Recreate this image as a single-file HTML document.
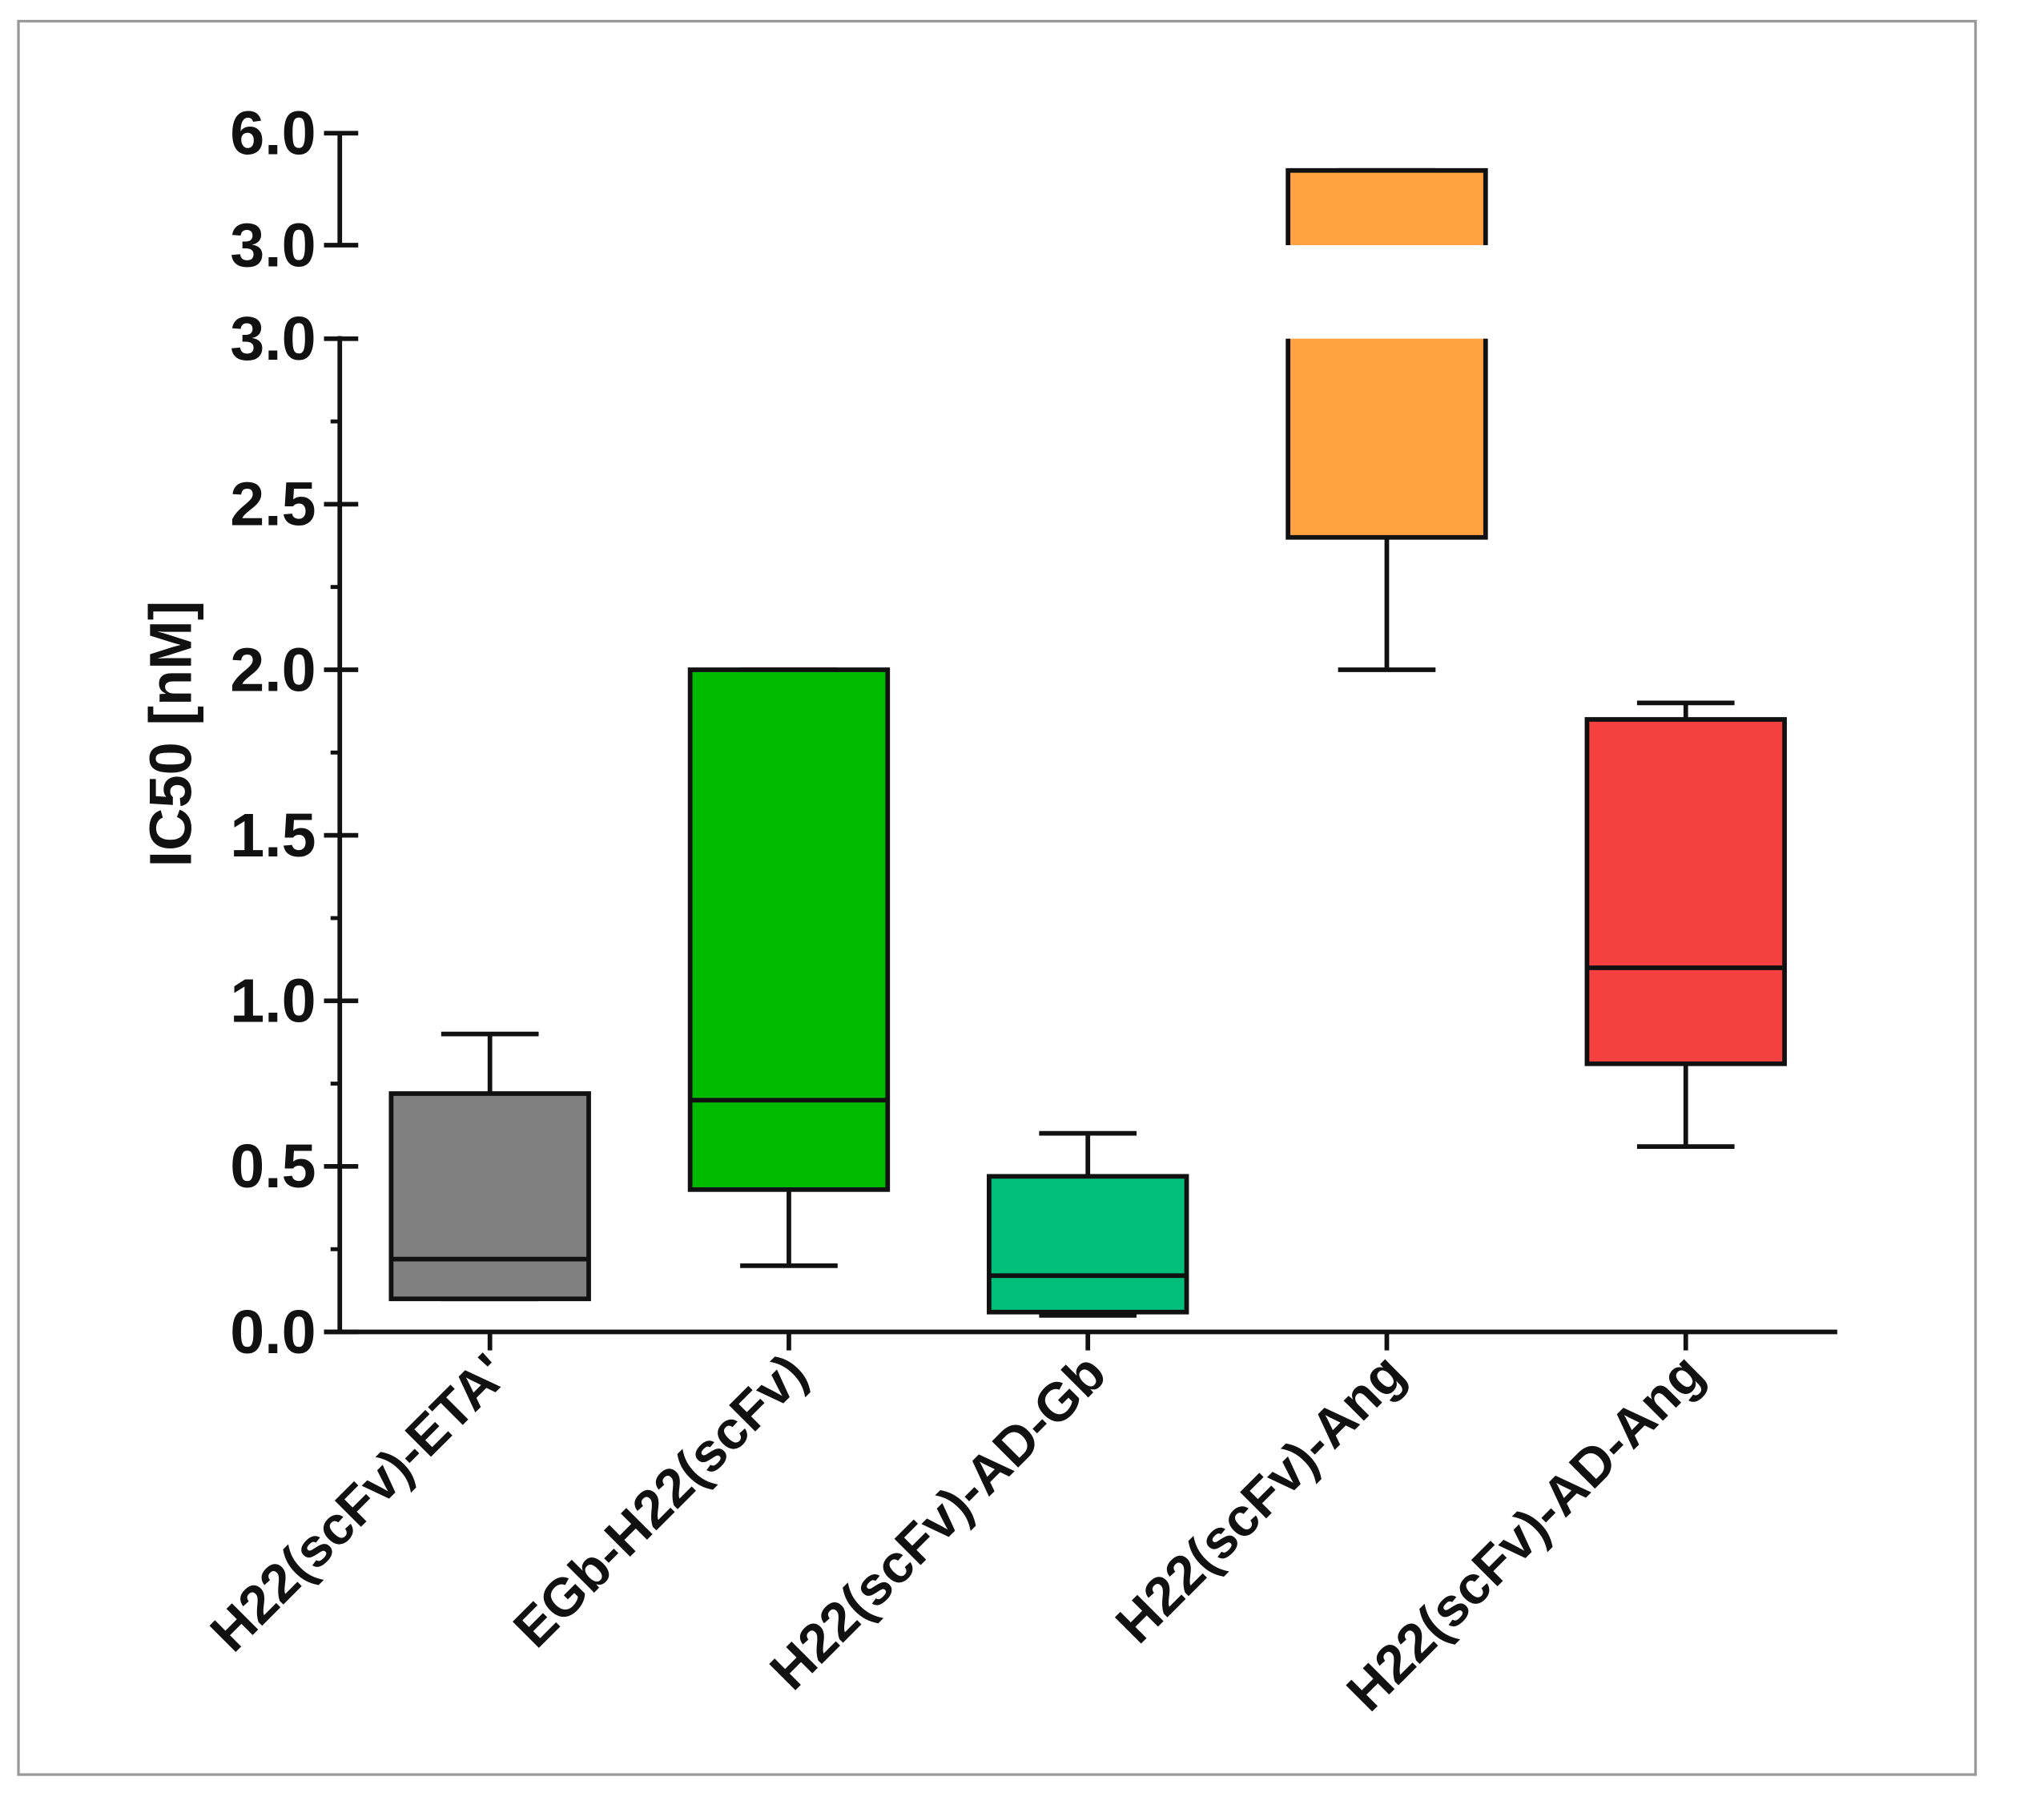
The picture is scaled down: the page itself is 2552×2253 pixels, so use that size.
<!DOCTYPE html>
<html><head><meta charset="utf-8"><style>html,body{margin:0;padding:0;background:#fff}svg{display:block}text{font-family:"Liberation Sans",Arial,sans-serif;font-weight:bold;fill:#111}</style></head>
<body>
<svg id="chart" width="2552" height="2253" viewBox="0 0 1552 1370" xmlns="http://www.w3.org/2000/svg">
<rect x="14" y="16" width="1486" height="1331" fill="#fff" stroke="#999" stroke-width="2"/>
<g id="plot"></g>
</svg>
<script>
const categories=["H22(scFv)-ETA'","EGb-H22(scFv)","H22(scFv)-AD-Gb","H22(scFv)-Ang","H22(scFv)-AD-Ang"];
const mins=[0.1,0.2,0.05,2.0,0.56];
const q1s=[0.1,0.43,0.06,2.4,0.81];
const medians=[0.22,0.7,0.17,3.5,1.1];
const q3s=[0.72,2.0,0.47,5.0,1.85];
const maxs=[0.9,2.0,0.6,5.0,1.9];
const colors=["#808080","#00bb00","#00bf7a","#ffa340","#f54040"];
const lowerTicks=[0,0.5,1.0,1.5,2.0,2.5,3.0];
const upperTicks=[3.0,6.0];
const NS="http://www.w3.org/2000/svg";
const g=document.getElementById('plot');
function y(v){return v<=3?1011-v/3*754:186-(v-3)/3*85;}
function xc(i){return 372+i*227;}
function mk(t,a){const e=document.createElementNS(NS,t);for(const k in a)e.setAttribute(k,a[k]);g.appendChild(e);return e;}
const BW=150,CW=74,SW=3.5;
let e;
e=mk('line',{x1:258,y1:255,x2:258,y2:1012,stroke:'#111','stroke-width':SW});


e=mk('line',{x1:258,y1:100,x2:258,y2:187,stroke:'#111','stroke-width':SW});


e=mk('line',{x1:246,y1:1011,x2:1395,y2:1011,stroke:'#111','stroke-width':SW});


for(let v=0.25;v<3;v+=0.5){e=mk('line',{x1:251,y1:y(v),x2:258,y2:y(v),stroke:'#111','stroke-width':3});

}
lowerTicks.forEach(v=>{
e=mk('line',{x1:246,y1:y(v),x2:272,y2:y(v),stroke:'#111','stroke-width':SW});


e=mk('text',{x:240,y:y(v)+16,'text-anchor':'end','font-size':47});e.textContent=v.toFixed(1);

});
upperTicks.forEach((v,k)=>{const yy=k==0?186:y(v);
e=mk('line',{x1:246,y1:yy,x2:272,y2:yy,stroke:'#111','stroke-width':SW});


e=mk('text',{x:240,y:yy+16,'text-anchor':'end','font-size':47});e.textContent=v.toFixed(1);

});
e=mk('text',{x:0,y:0,'text-anchor':'middle','font-size':45,transform:'translate(145,557) rotate(-90)'});e.textContent='IC50 [nM]';


categories.forEach((c,i)=>{
const x=xc(i),l=x-BW/2,r=x+BW/2;
e=mk('line',{x1:x,y1:1011,x2:x,y2:1025,stroke:'#111','stroke-width':SW});


[[mins[i],q1s[i]],[q3s[i],maxs[i]]].forEach(([a,b])=>{
e=mk('line',{x1:x,y1:y(a),x2:x,y2:y(b),stroke:'#111','stroke-width':SW});


});
[mins[i],maxs[i]].forEach(v=>{e=mk('line',{x1:x-CW/2,y1:y(v),x2:x+CW/2,y2:y(v),stroke:'#111','stroke-width':SW});

});
const a=q1s[i],b=q3s[i];
if(b<=3){
e=mk('rect',{x:l,y:y(b),width:BW,height:y(a)-y(b),fill:colors[i],stroke:'#111','stroke-width':SW});


const ym=y(medians[i]);
e=mk('line',{x1:l,y1:ym,x2:r,y2:ym,stroke:'#111','stroke-width':SW});


}else{
e=mk('rect',{x:l,y:257,width:BW,height:y(a)-257,fill:colors[i]});


e=mk('path',{d:`M${l},257 L${l},${y(a)} L${r},${y(a)} L${r},257`,fill:'none',stroke:'#111','stroke-width':SW});


e=mk('rect',{x:l,y:y(b),width:BW,height:186-y(b),fill:colors[i]});


e=mk('path',{d:`M${l},186 L${l},${y(b)} L${r},${y(b)} L${r},186`,fill:'none',stroke:'#111','stroke-width':SW});


}
e=mk('text',{x:0,y:0,'text-anchor':'end','font-size':41,transform:`translate(${x+16},${1045}) rotate(-45)`});e.textContent=c;


});
</script>
</body></html>
